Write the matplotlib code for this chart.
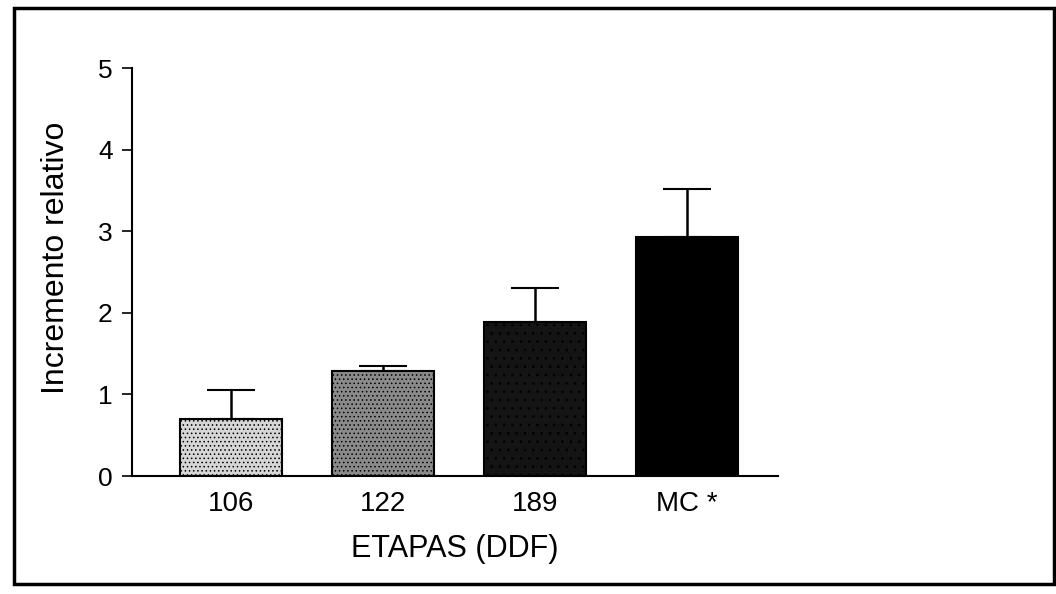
import matplotlib.pyplot as plt
from matplotlib.patches import Rectangle

# dados
etapas = ["106", "122", "189", "MC *"]
incremento = [0.70, 1.29, 1.89, 2.93]
erro = [0.35, 0.06, 0.41, 0.59]
cores = ["#d6d6d6", "#8a8a8a", "#141414", "#000000"]
cor_pontos = ["#666666", "#444444", "#bbbbbb", "#000000"]
hachuras = ["....", "....", "..", ""]

plt.rcParams['font.family'] = ['Liberation Sans', 'DejaVu Sans']
plt.rcParams['hatch.linewidth'] = 0.6

fig = plt.figure(figsize=(10.56, 5.94), dpi=100)

# moldura externa
fig.patches.append(Rectangle((14 / 1056, 1 - 584 / 594), 1040 / 1056, 576 / 594,
                             transform=fig.transFigure, fill=False,
                             edgecolor="black", linewidth=2.5))

ax = fig.add_axes([132 / 1056, 1 - 476 / 594, 646 / 1056, 408 / 594])
pos = list(range(len(etapas)))
for i in pos:
    plt.rcParams['hatch.color'] = cor_pontos[i]
    ax.bar(i, incremento[i], width=0.67, color=cores[i], edgecolor="black",
           linewidth=1.5, hatch=hachuras[i], zorder=2)
ax.errorbar(pos, incremento, yerr=[[0] * len(erro), erro], fmt="none",
            ecolor="black", elinewidth=1.8, capsize=17, capthick=1.5, zorder=3)

ax.set_xlim(-0.65, 3.6)
ax.set_ylim(0, 5)
ax.set_yticks(range(6))
ax.set_xticks(pos)
ax.set_xticklabels(etapas)
ax.tick_params(axis="y", direction="out", length=7, width=1.2, labelsize=19, pad=7)
ax.tick_params(axis="x", length=0, labelsize=20, pad=11)
ax.spines["top"].set_visible(False)
ax.spines["right"].set_visible(False)
ax.spines["left"].set_linewidth(1.5)
ax.spines["bottom"].set_linewidth(1.5)
ax.set_ylabel("Incremento relativo", fontsize=23)
ax.yaxis.set_label_coords(-0.095, 0.535)
ax.set_xlabel("ETAPAS (DDF)", fontsize=22, labelpad=12)

fig.savefig("out.png", dpi=100)
